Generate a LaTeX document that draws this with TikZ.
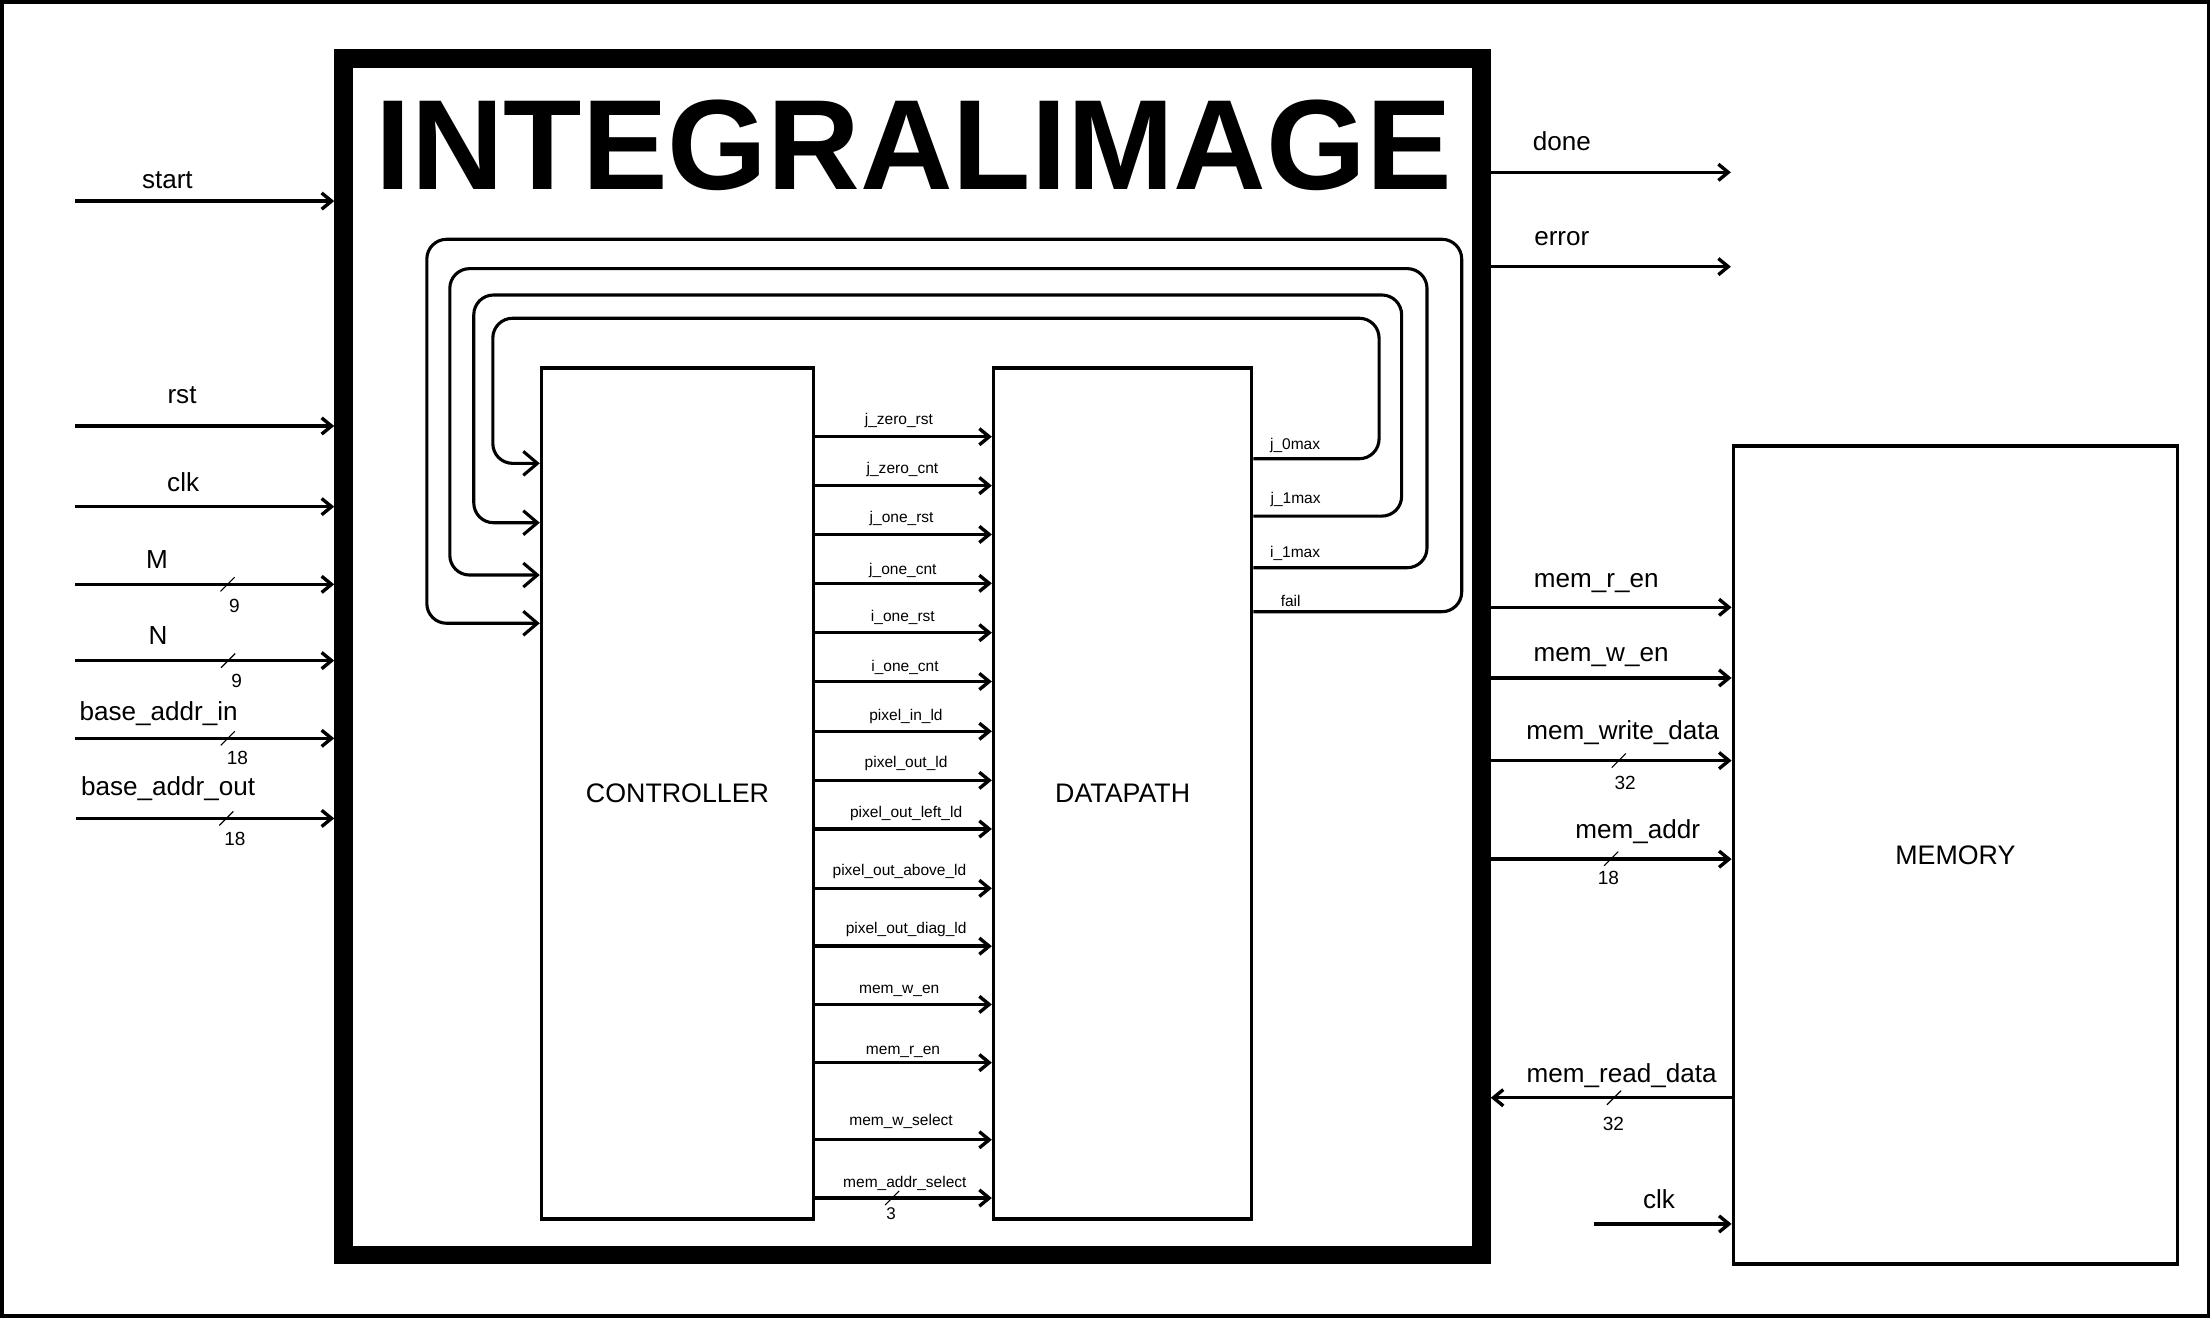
\documentclass[tikz,border=0pt]{standalone}
\usepackage{fontspec}
\setmainfont{Liberation Sans}
\usetikzlibrary{arrows.meta}
\tikzset{
  lab/.style={font=\fontsize{18.5}{20}\selectfont, anchor=base, inner sep=0pt},
  sml/.style={font=\fontsize{11}{12}\selectfont, anchor=base, inner sep=0pt},
  num/.style={font=\fontsize{13.5}{14}\selectfont, anchor=base, inner sep=0pt},
  blk/.style={draw, line width=2.4pt, inner sep=0pt, font=\fontsize{19}{20}\selectfont},
  arr/.style={line width=2.4pt, -{Straight Barb[length=7pt,width=11.5pt]}},
  fb/.style={line width=2.2pt, rounded corners=14pt, -{Straight Barb[length=10pt,width=17pt]}},
  slash/.style={line width=0.8pt},
}
\begin{document}
\begin{tikzpicture}[x=1pt,y=-1pt]
\useasboundingbox (0,0) rectangle (1568,935);
\draw[line width=2.8pt] (1.4,1.4) rectangle (1566.2,933.4);

% main block
\node[draw, line width=13pt, inner sep=0pt, minimum width=807.2pt, minimum height=848.6pt] (ii) at (647.1,465.7) {};
\node[font=\fontsize{91}{100}\selectfont\bfseries, anchor=base, inner sep=0pt] (title) at (648,134.7) {INTEGRALIMAGE};

\node[blk, minimum width=193pt, minimum height=603.5pt] (ctrl) at (480.5,562.75) {CONTROLLER};
\node[blk, minimum width=183.1pt, minimum height=603.5pt] (dp) at (796.15,562.75) {DATAPATH};
\node[blk, minimum width=315pt, minimum height=580pt] (mem) at (1386.7,606.3) {MEMORY};

% left inputs
\coordinate (iStart) at (53.3,142.6);
\coordinate (iRst) at (53.3,302.1);
\coordinate (iClk) at (53.3,359.3);
\coordinate (iM) at (53.3,414.4);
\coordinate (iN) at (53.3,468.5);
\coordinate (iBin) at (53.3,523.6);
\coordinate (iBout) at (54,580.4);
\foreach \c in {iStart,iRst,iClk,iM,iN,iBin,iBout}
  \draw[arr] (\c) -- (\c -| ii.west);
\node[lab] (lStart) at (118.7,133.6) {start};
\node[lab] (lRst) at (129.1,286) {rst};
\node[lab] (lClk) at (129.9,348.7) {clk};
\node[lab] (lM) at (111.4,403) {M};
\node[lab] (lN) at (112,457.4) {N};
\node[lab] (lBin) at (112.5,511.1) {base\_addr\_in};
\node[lab] (lBout) at (119.2,563.8) {base\_addr\_out};
\draw[slash] (156.4,419.4) -- ++(10,-10);
\draw[slash] (156.8,473.5) -- ++(10,-10);
\draw[slash] (156.5,528.6) -- ++(10,-10);
\draw[slash] (155.5,585.4) -- ++(10,-10);
\node[num] (nM) at (166.3,434.3) {9};
\node[num] (nN) at (167.9,487.4) {9};
\node[num] (nBin) at (168.4,542.5) {18};
\node[num] (nBout) at (166.6,599.8) {18};

% right outputs
\coordinate (oDone) at (1227.5,122.2);
\coordinate (oErr) at (1227.5,189.1);
\draw[arr] (ii.east |- oDone) -- (oDone);
\draw[arr] (ii.east |- oErr) -- (oErr);
\draw[arr] (ii.east |- 0,430.7) -- (mem.west |- 0,430.7);
\draw[arr] (ii.east |- 0,480.8) -- (mem.west |- 0,480.8);
\draw[arr] (ii.east |- 0,539.4) -- (mem.west |- 0,539.4);
\draw[arr] (ii.east |- 0,609.3) -- (mem.west |- 0,609.3);
\draw[arr] (mem.west |- 0,778.5) -- (ii.east |- 0,778.5);
\coordinate (mClk) at (1130.7,868);
\draw[arr] (mClk) -- (mClk -| mem.west);
\node[lab] (lDone) at (1107.6,106.4) {done};
\node[lab] (lErr) at (1107.6,174.2) {error};
\node[lab] (lMren) at (1132,416.5) {mem\_r\_en};
\node[lab] (lMwen) at (1135.5,469.4) {mem\_w\_en};
\node[lab] (lMwd) at (1150.8,524.7) {mem\_write\_data};
\node[lab] (lMa) at (1161.5,594.7) {mem\_addr};
\node[lab] (lMrd) at (1150,767.8) {mem\_read\_data};
\node[lab] (lMclk) at (1176.5,857.2) {clk};
\draw[slash] (1143,544.4) -- ++(10,-10);
\draw[slash] (1137.6,614) -- ++(10,-10);
\draw[slash] (1139.6,783.5) -- ++(10,-10);
\node[num] (nMwd) at (1152.5,559.8) {32};
\node[num] (nMa) at (1140.6,627.6) {18};
\node[num] (nMrd) at (1144.2,801.4) {32};

% controller -> datapath
\foreach \y/\t/\lx/\ly [count=\k] in {
  309.7/j\_zero\_rst/637.5/300.7,
  344.4/j\_zero\_cnt/640/335.7,
  379/j\_one\_rst/639.4/370.4,
  413.7/j\_one\_cnt/640.3/407.1,
  448.7/i\_one\_rst/640.3/440.9,
  483.3/i\_one\_cnt/641.8/475.9,
  518.6/pixel\_in\_ld/642.5/511.2,
  553.4/pixel\_out\_ld/642.6/544.4,
  587.9/pixel\_out\_left\_ld/642.6/579.4,
  630/pixel\_out\_above\_ld/637.9/620.8,
  671/pixel\_out\_diag\_ld/642.6/662,
  712.3/mem\_w\_en/637.7/704.7,
  753.6/mem\_r\_en/640.4/747.6,
  808.3/mem\_w\_select/639/797.9,
  849.6/mem\_addr\_select/641.7/842}
{
  \draw[arr] (ctrl.east |- 0,\y) -- (dp.west |- 0,\y);
  \node[sml] (cs\k) at (\lx,\ly) {\t};
}
\draw[slash] (627.7,854.6) -- ++(10,-10);
\node[num, font=\fontsize{12}{13}\selectfont] (nSel) at (631.9,865) {3};

% feedback loops
\draw[fb] (dp.east |- 0,325.3) -| (978,225.7) -| (349.5,328.6) -- (ctrl.west |- 0,328.6);
\draw[fb] (dp.east |- 0,366) -| (994,209.2) -| (336,370.7) -- (ctrl.west |- 0,370.7);
\draw[fb] (dp.east |- 0,402.6) -| (1012,190.5) -| (319,407.8) -- (ctrl.west |- 0,407.8);
\draw[fb] (dp.east |- 0,433.8) -| (1036.6,169.7) -| (302.7,442) -- (ctrl.west |- 0,442);
\node[sml, anchor=base west] (fJ0) at (900.5,318.7) {j\_0max};
\node[sml, anchor=base west] (fJ1) at (900.9,357) {j\_1max};
\node[sml, anchor=base west] (fI1) at (900.5,395.5) {i\_1max};
\node[sml, anchor=base west] (fFail) at (908.1,429.8) {fail};
\end{tikzpicture}
\end{document}
